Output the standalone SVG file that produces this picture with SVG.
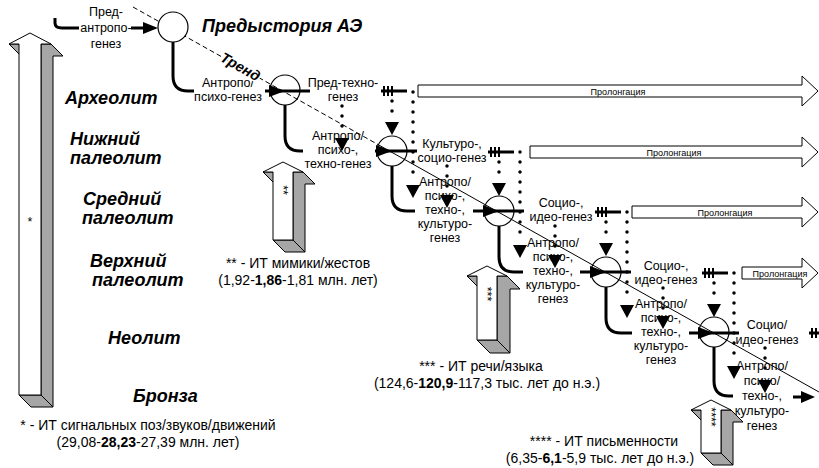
<svg xmlns="http://www.w3.org/2000/svg" width="819" height="468" viewBox="0 0 819 468">
<style>
text{font-family:"Liberation Sans",Arial,sans-serif;fill:#000}
.s{font-size:12.5px;text-anchor:middle}
.b{font-size:14px;text-anchor:middle}
.era{font-size:18px;font-weight:bold;font-style:italic}
.p{font-size:9px;text-anchor:middle}
.thick{fill:none;stroke:#000;stroke-width:3}
.dot{fill:none;stroke:#000;stroke-width:3.5;stroke-linecap:round;stroke-dasharray:0 10}
.tri{fill:#000}
.node{fill:#fff;stroke:#000;stroke-width:1.2}
.prol{fill:#fff;stroke:#000;stroke-width:1}
.g{fill:#a6a6a6;stroke:#000;stroke-width:1;stroke-linejoin:round}
.w{fill:#fff;stroke:#000;stroke-width:1;stroke-linejoin:round}
.tick{stroke:#000;stroke-width:2}
.trend{fill:none;stroke:#000;stroke-width:1}
</style>

<!-- big 3D arrows -->
<g id="arrow-signal">
<polygon class="g" points="9,44 19,44 31,56 21,56"/>
<polygon class="g" points="41,44 51,44 63,56 53,56 53,407 41,395"/>
<polygon class="g" points="19,395 41,395 53,407 31,407"/>
<polygon class="w" points="30,33 51,44 41,44 41,395 19,395 19,44 9,44"/>
<text class="s" x="30" y="226">*</text>
</g>
<g id="arrow-mimic">
<polygon class="g" points="263,172 273,172 285,184 275,184"/>
<polygon class="g" points="293,172 303,172 315,184 305,184 305,252 293,240"/>
<polygon class="g" points="273,240 293,240 305,252 285,252"/>
<polygon class="w" points="283,162 303,172 293,172 293,240 273,240 273,172 263,172"/>
<text class="s" transform="translate(279,190) rotate(90)">**</text>
</g>
<g id="arrow-speech">
<polygon class="g" points="467,276 477,276 490,289 480,289"/>
<polygon class="g" points="497,276 507,276 520,289 510,289 510,353 497,340"/>
<polygon class="g" points="477,340 497,340 510,353 490,353"/>
<polygon class="w" points="487,266 507,276 497,276 497,340 477,340 477,276 467,276"/>
<text class="s" transform="translate(483,294) rotate(90)">***</text>
</g>
<g id="arrow-writing">
<polygon class="g" points="691,410 701,410 713,422 703,422"/>
<polygon class="g" points="721,410 731,410 743,422 733,422 733,465 721,453"/>
<polygon class="g" points="701,453 721,453 733,465 713,465"/>
<polygon class="w" points="711,400 731,410 721,410 721,453 701,453 701,410 691,410"/>
<text class="s" transform="translate(707,417) rotate(90)">****</text>
</g>

<!-- prolongation arrows -->
<g id="prol1"><polygon class="prol" points="418,85 802,85 802,76 818,91 802,106 802,97 418,97"/><text class="p" x="618" y="94.5">Пролонгация</text></g>
<g id="prol2"><polygon class="prol" points="530,146 802,146 802,137 818,152 802,167 802,158 530,158"/><text class="p" x="674" y="155.5">Пролонгация</text></g>
<g id="prol3"><polygon class="prol" points="632,206 802,206 802,197 818,212 802,227 802,218 632,218"/><text class="p" x="725" y="215.5">Пролонгация</text></g>
<g id="prol4"><polygon class="prol" points="742,267 802,267 802,258 818,273 802,288 802,279 742,279"/><text class="p" x="780" y="276.5">Пролонгация</text></g>

<!-- era labels -->
<g id="eras">
<text class="era" x="202" y="32">Предыстория АЭ</text>
<text class="era" x="65" y="104">Археолит</text>
<text class="era" x="70" y="145">Нижний</text>
<text class="era" x="70" y="164">палеолит</text>
<text class="era" x="83" y="205">Средний</text>
<text class="era" x="82" y="224">палеолит</text>
<text class="era" x="90" y="267">Верхний</text>
<text class="era" x="92" y="286">палеолит</text>
<text class="era" x="108" y="344">Неолит</text>
<text class="era" x="133" y="402">Бронза</text>
</g>

<!-- captions -->
<g id="captions">
<text class="b" x="298" y="268">** - ИТ мимики/жестов</text>
<text class="b" x="298" y="285">(1,92-<tspan font-weight="bold">1,86</tspan>-1,81 млн. лет)</text>
<text class="b" x="481" y="371">*** - ИТ речи/языка</text>
<text class="b" x="487" y="388">(124,6-<tspan font-weight="bold">120,9</tspan>-117,3 тыс. лет до н.э.)</text>
<text class="b" x="148" y="430">* - ИТ сигнальных поз/звуков/движений</text>
<text class="b" x="148" y="447">(29,08-<tspan font-weight="bold">28,23</tspan>-27,39 млн. лет)</text>
<text class="b" x="604" y="446">**** - ИТ письменности</text>
<text class="b" x="600" y="463">(6,35-<tspan font-weight="bold">6,1</tspan>-5,9 тыс. лет до н.э.)</text>
</g>

<!-- stage labels -->
<g id="labels">
<text class="s" x="106" y="16">Пред-</text>
<text class="s" x="106" y="32">антропо-</text>
<text class="s" x="106" y="48">генез</text>

<text class="s" x="228" y="87">Антропо/</text>
<text class="s" x="228" y="101">психо-генез</text>
<text class="s" x="343" y="87">Пред-техно-</text>
<text class="s" x="343" y="101">генез</text>

<text class="s" x="338" y="140">Антропо/</text>
<text class="s" x="338" y="154">психо-,</text>
<text class="s" x="338" y="168">техно-генез</text>
<text class="s" x="452" y="148">Культуро-,</text>
<text class="s" x="452" y="162">социо-генез</text>

<text class="s" x="445" y="186">Антропо/</text>
<text class="s" x="445" y="200">психо-,</text>
<text class="s" x="445" y="214">техно-,</text>
<text class="s" x="445" y="228">культуро-</text>
<text class="s" x="445" y="242">генез</text>
<text class="s" x="561" y="207">Социо-,</text>
<text class="s" x="561" y="221">идео-генез</text>

<text class="s" x="553" y="247">Антропо/</text>
<text class="s" x="553" y="261">психо-,</text>
<text class="s" x="553" y="275">техно-,</text>
<text class="s" x="553" y="289">культуро-</text>
<text class="s" x="553" y="303">генез</text>
<text class="s" x="666" y="270">Социо-,</text>
<text class="s" x="666" y="284">идео-генез</text>

<text class="s" x="661" y="308">Антропо/</text>
<text class="s" x="661" y="322">психо-,</text>
<text class="s" x="661" y="336">техно-,</text>
<text class="s" x="661" y="350">культуро-</text>
<text class="s" x="661" y="364">генез</text>
<text class="s" x="767" y="329">Социо/</text>
<text class="s" x="767" y="344">идео-генез</text>

<text class="s" x="762" y="370">Антропо/</text>
<text class="s" x="762" y="385">психо/</text>
<text class="s" x="762" y="400">техно-,</text>
<text class="s" x="762" y="415">культуро-</text>
<text class="s" x="762" y="430">генез</text>
</g>

<!-- nodes -->
<g id="node1"><circle class="node" cx="285" cy="90" r="15"/></g>
<g id="node2"><circle class="node" cx="392" cy="151" r="15"/></g>
<g id="node3"><circle class="node" cx="499" cy="211" r="15"/></g>
<g id="node4"><circle class="node" cx="606" cy="272" r="15"/></g>
<g id="node5"><circle class="node" cx="714" cy="332" r="15"/></g>

<!-- trend line -->
<g id="trend">
<path class="trend" stroke-dasharray="5 3" d="M133,7 L377,144"/>
<path class="trend" d="M377,144 L819,392"/>
<text x="0" y="0" font-size="14.5" font-weight="bold" font-style="italic" text-anchor="middle" transform="translate(238,71) rotate(29.3)" style="paint-order:stroke;stroke:#fff;stroke-width:3">Тренд</text>
</g>

<g id="node0"><circle class="node" cx="173" cy="27" r="15"/></g>

<!-- connectors -->
<g id="connectors">
<path class="thick" d="M55,18 V23 Q55,28 62,28 H79"/>
<path class="thick" d="M131,28 H146"/>
<polygon class="tri" points="143,22 158,28 143,34"/>

<path class="thick" d="M173,42 V76 Q173,91 188,91 H194"/>
<path class="thick" d="M285,105 V136 Q285,151 300,151 H303"/>
<path class="thick" d="M392,166 V196 Q392,211 407,211 H415"/>
<path class="thick" d="M499,226 V257 Q499,272 514,272 H523"/>
<path class="thick" d="M606,287 V318 Q606,333 621,333 H632"/>
<path class="thick" d="M714,347 V381 Q714,396 729,396 H733"/>

<path class="thick" d="M265,91 H310"/><polygon class="tri" points="269,85 285,91 269,97"/>
<path class="thick" d="M375,151 H417"/><polygon class="tri" points="376,145 392,151 376,157"/>
<path class="thick" d="M473,211 H524"/><polygon class="tri" points="483,205 499,211 483,217"/>
<path class="thick" d="M580,272 H631"/><polygon class="tri" points="590,266 606,272 590,278"/>
<path class="thick" d="M689,333 H739"/><polygon class="tri" points="698,327 714,333 698,339"/>
<path class="thick" d="M793,397 H803"/><polygon class="tri" points="801,391 815,397 801,403"/>

<path class="thick" d="M381,91 H407"/><path class="tick" d="M384,86 V96 M388,86 V96 M392,86 V96"/>
<path class="thick" d="M488,152 H514"/><path class="tick" d="M491,147 V157 M495,147 V157 M499,147 V157"/>
<path class="thick" d="M595,212 H621"/><path class="tick" d="M598,207 V217 M602,207 V217 M606,207 V217"/>
<path class="thick" d="M702,273 H728"/><path class="tick" d="M705,268 V278 M709,268 V278 M713,268 V278"/>
<path class="thick" d="M809,333 H819"/><path class="tick" d="M812,328 V338 M816,328 V338"/>

<path class="dot" d="M342,106 V136"/><polygon class="tri" points="335,138 349,138 342,151"/>
<path class="dot" d="M447,166 V193"/><polygon class="tri" points="440,195 454,195 447,208"/>
<path class="dot" d="M555,226 V253"/><polygon class="tri" points="548,255 562,255 555,268"/>
<path class="dot" d="M663,288 V314"/><polygon class="tri" points="656,316 670,316 663,329"/>
<path class="dot" d="M765,348 V378"/><polygon class="tri" points="758,380 772,380 765,393"/>

<path class="dot" d="M392,101 V121"/><polygon class="tri" points="385,122 399,122 392,135"/>
<path class="dot" d="M499,162 V182"/><polygon class="tri" points="492,183 506,183 499,196"/>
<path class="dot" d="M606,222 V242"/><polygon class="tri" points="599,243 613,243 606,256"/>
<path class="dot" d="M714,283 V303"/><polygon class="tri" points="707,304 721,304 714,317"/>

<path class="dot" d="M413,92 V182"/><polygon class="tri" points="406,185 420,185 413,198"/>
<path class="dot" d="M520,152 V242"/><polygon class="tri" points="513,245 527,245 520,258"/>
<path class="dot" d="M627,212 V302"/><polygon class="tri" points="620,305 634,305 627,318"/>
<path class="dot" d="M734,273 V363"/><polygon class="tri" points="727,366 741,366 734,379"/>
</g>
</svg>
